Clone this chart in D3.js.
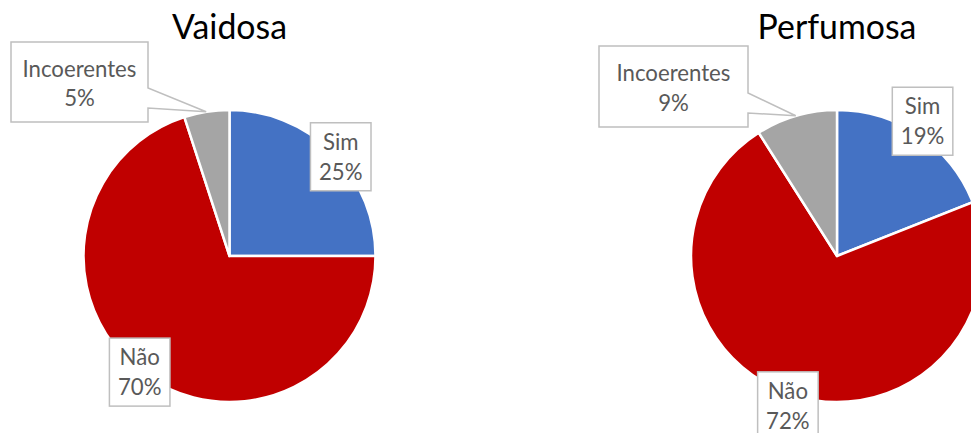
<!DOCTYPE html>
<html><head><meta charset="utf-8">
<script src="https://cdn.jsdelivr.net/npm/d3@7"></script>
<style>body{margin:0;background:#fff;overflow:hidden}</style></head>
<body><svg id="c" width="971" height="433"></svg>
<script>
// ---- data ----
const categories = ["Sim", "Não", "Incoerentes"];
const chartTitles = ["Vaidosa", "Perfumosa"];
const vaidosaValues = [25, 70, 5];
const perfumosaValues = [19, 72, 9];
const sliceColors = ["#4472C4", "#C00000", "#A5A5A5"];

// ---- layout (positions / styles only) ----
const pies = [
  { title: chartTitles[0], values: vaidosaValues, cx: 229.5, cy: 256, r: 146,
    labels: [
      { type: "box", dx: 8, dy: 4 },
      { type: "box", dx: -4, dy: -2 },
      { type: "callout", x0: 11, y0: 42, x1: 148, y1: 122, py0: 88, py1: 108 }
    ] },
  { title: chartTitles[1], values: perfumosaValues, cx: 837, cy: 256, r: 146,
    labels: [
      { type: "box", dx: 3.5, dy: -14 },
      { type: "box", dx: -4, dy: 11 },
      { type: "callout", x0: 599, y0: 46, x1: 748, y1: 127, py0: 93, py1: 113 }
    ] }
];
const FONT = "Lato, 'Open Sans', sans-serif";
const svg = d3.select("#c");

// fit font size so that label widths resemble the reference
function fitSize(text, target, base) {
  const t = svg.append("text").attr("font-family", FONT).attr("font-size", base).text(text);
  const w = t.node().getComputedTextLength();
  t.remove();
  return base * target / w;
}
const labelSize = fitSize("Incoerentes", 114, 22);
const titleSize = fitSize("Vaidosa", 115, 34);
const lineGap = 29.5;
const capH = labelSize * 0.72;

const pieGen = d3.pie().sort(null).value(d => d);

pies.forEach(p => {
  const g = svg.append("g");
  const arcs = pieGen(p.values);
  const arc = d3.arc().innerRadius(0).outerRadius(p.r);
  g.selectAll("path.slice").data(arcs).join("path")
    .attr("class", "slice")
    .attr("transform", `translate(${p.cx},${p.cy})`)
    .attr("d", arc)
    .attr("fill", (d, i) => sliceColors[i])
    .attr("stroke", "#fff").attr("stroke-width", 2.5).attr("stroke-linejoin", "round");

  // title
  svg.append("text").attr("x", p.cx).attr("y", 39).attr("text-anchor", "middle")
    .attr("font-family", FONT).attr("font-size", titleSize).attr("fill", "#000")
    .text(p.title);

  arcs.forEach((a, i) => {
    const L = p.labels[i];
    const mid = (a.startAngle + a.endAngle) / 2;
    const ex = p.cx + p.r * Math.sin(mid), ey = p.cy - p.r * Math.cos(mid);
    const pct = d3.format(".0%")(p.values[i] / d3.sum(p.values));
    let bx, by;
    if (L.type === "box") {
      bx = ex + L.dx; by = ey + L.dy;
      const t1 = svg.append("text").attr("font-family", FONT).attr("font-size", labelSize).text(categories[i]);
      const t2 = svg.append("text").attr("font-family", FONT).attr("font-size", labelSize).text(pct);
      const w = Math.max(t1.node().getComputedTextLength(), t2.node().getComputedTextLength()) + 17;
      t1.remove(); t2.remove();
      const h = 68;
      svg.append("rect").attr("x", bx - w / 2).attr("y", by - h / 2).attr("width", w).attr("height", h)
        .attr("fill", "#fff").attr("stroke", "#BFBFBF").attr("stroke-width", 1.5);
    } else {
      bx = (L.x0 + L.x1) / 2; by = (L.y0 + L.y1) / 2;
      const tip = [ex - 0.5, ey];
      const pts = [[L.x0, L.y0], [L.x1, L.y0], [L.x1, L.py0], tip, [L.x1, L.py1], [L.x1, L.y1], [L.x0, L.y1]];
      svg.append("path").attr("d", "M" + pts.map(q => q.join(",")).join("L") + "Z")
        .attr("fill", "#fff").attr("stroke", "#BFBFBF").attr("stroke-width", 1.5)
        .attr("stroke-linejoin", "miter");
      by += 1.5;
    }
    const lines = [categories[i], pct];
    lines.forEach((s, k) => {
      svg.append("text").attr("x", bx)
        .attr("y", by + (k === 0 ? -lineGap / 2 : lineGap / 2) + capH / 2)
        .attr("text-anchor", "middle").attr("font-family", FONT).attr("font-size", labelSize)
        .attr("fill", "#595959").text(s);
    });
  });
});
</script></body></html>
